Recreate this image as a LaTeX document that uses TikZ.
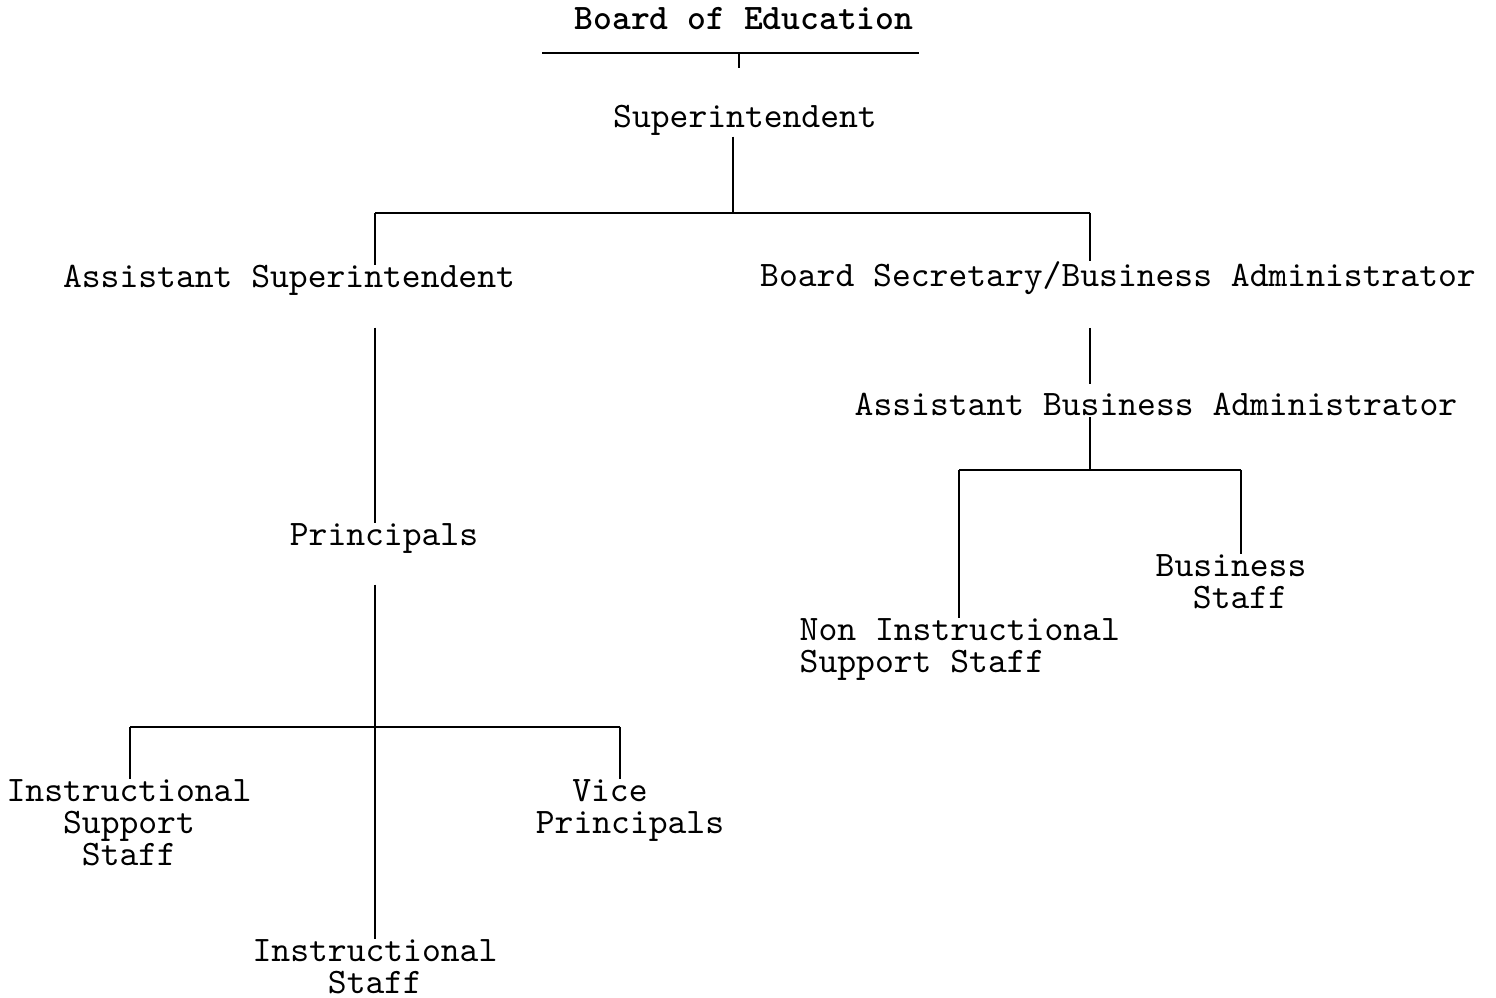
\documentclass[tikz,border=0pt]{standalone}
\tikzset{
  post/.style={inner sep=0pt, anchor=base, font=\ttfamily\fontsize{10.2}{9.1}\selectfont},
  multi/.style={post, align=center},
  link/.style={line width=0.6pt},
}
\begin{document}
\begin{tikzpicture}[x=0.01cm,y=-0.01cm]
  \useasboundingbox (0,0) rectangle (1496,998);
  % top of the chart
  \node[post,font=\ttfamily\fontsize{10.2}{9.1}\selectfont\bfseries] (board) at (744,30) {Board of Education};
  \coordinate (rule-l) at (542,53);
  \coordinate (rule-r) at (919,53);
  \coordinate (rule-t) at (739,53);
  \draw[link] (rule-l) -- (rule-r);
  \draw[link] (rule-t) -- ++(0,15);
  \node[post] (sup) at (745,128) {Superintendent};
  % second level
  \node[post] (asup) at (289,288) {Assistant Superintendent};
  \node[post] (bsec) at (1118,287) {Board Secretary/Business Administrator};
  \coordinate (j-sup) at (733,213);
  \coordinate (j-left) at (375,213);
  \coordinate (j-right) at (1090,213);
  \draw[link] (sup.south -| j-sup) -- (j-sup);
  \draw[link] (j-left) -- (j-right);
  \draw[link] (j-left) -- (asup.north -| j-left);
  \draw[link] (j-right) -- (bsec.north -| j-right);
  % schools
  \node[post] (prin) at (384,546) {Principals};
  \draw[link,shorten <=0.31cm] (asup.south -| j-left) -- (prin.north -| j-left);
  \node[multi] (iss) at (129,866) {Instructional\\Support\\Staff};
  \node[multi] (vp) at (630,834) {Vice\hspace*{0.4cm}\\Principals};
  \node[multi] (ist) at (375,994) {Instructional\\Staff};
  \coordinate (j-prin) at (375,727);
  \coordinate (j-iss) at (130,727);
  \coordinate (j-vp) at (620,727);
  \draw[link,shorten <=0.30cm] (prin.south -| j-prin) -- (ist.north -| j-prin);
  \draw[link] (j-iss) -- (j-vp);
  \draw[link] (j-iss) -- (iss.north -| j-iss);
  \draw[link] (j-vp) -- (vp.north -| j-vp);
  % business office
  \node[post] (aba) at (1156,416) {Assistant Business Administrator};
  \draw[link,shorten <=0.32cm,shorten >=0.09cm] (bsec.south -| j-right) -- (aba.north -| j-right);
  \node[post,align=left,anchor=base west] (nis) at (799,673) {Non Instructional\\Support Staff};
  \node[multi] (bus) at (1231,609) {Business\\\hspace*{0.18cm}Staff};
  \coordinate (j-aba) at (1090,470);
  \coordinate (j-nis) at (959,470);
  \coordinate (j-bus) at (1241,470);
  \draw[link] (aba.south -| j-aba) -- (j-aba);
  \draw[link] (j-nis) -- (j-bus);
  \draw[link] (j-nis) -- (nis.north -| j-nis);
  \draw[link] (j-bus) -- (bus.north -| j-bus);
\end{tikzpicture}
\end{document}
